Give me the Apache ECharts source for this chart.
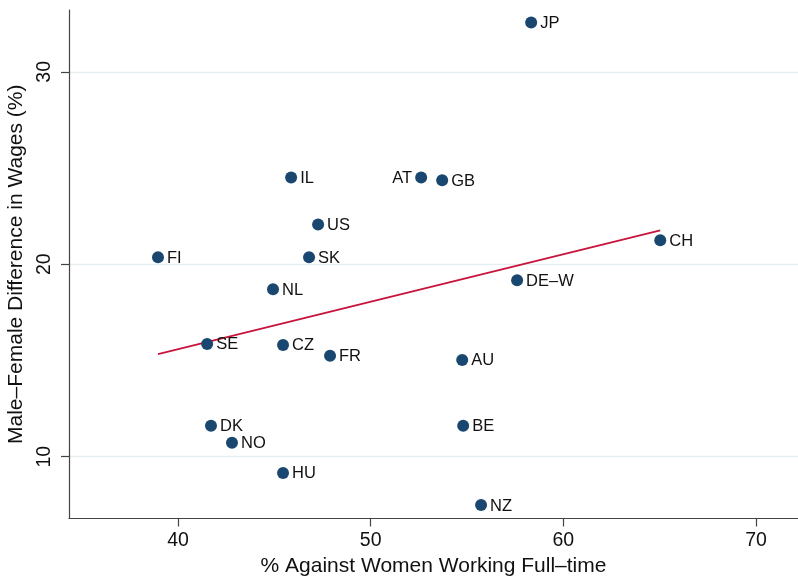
<!DOCTYPE html>
<html>
<head>
<meta charset="utf-8">
<script src="https://cdn.jsdelivr.net/npm/echarts@6/dist/echarts.min.js"></script>
<style>
  html, body { margin: 0; padding: 0; background: #fff; }
  #chart { width: 798px; height: 578px; }
</style>
</head>
<body>
<div id="chart"></div>
<script>
// Country codes, attitude toward women working full-time, and wage gap
var countries = ['JP', 'IL', 'AT', 'GB', 'US', 'FI', 'SK', 'CH', 'NL', 'DE\u2013W',
                 'SE', 'CZ', 'FR', 'AU', 'DK', 'NO', 'BE', 'HU', 'NZ'];
var againstFullTime = [58.33, 45.87, 52.62, 53.71, 47.27, 38.96, 46.80, 65.03, 44.93, 57.60,
                       41.51, 45.45, 47.89, 54.75, 41.71, 42.80, 54.80, 45.45, 55.73];
var wageGap = [32.56, 24.51, 24.51, 24.36, 22.07, 20.36, 20.36, 21.25, 18.70, 19.17,
               15.86, 15.81, 15.24, 15.03, 11.61, 10.72, 11.61, 9.16, 7.49];

// Linear fit endpoints
var fitX = [38.96, 65.03];
var fitY = [15.33, 21.76];

var xTicks = [40, 50, 60, 70];
var yTicks = [10, 20, 30];
var leftLabelled = ['AT'];

var FONT = '"Liberation Sans", Arial, Helvetica, sans-serif';

var points = countries.map(function (c, i) {
  var item = { value: [againstFullTime[i], wageGap[i]], name: c };
  if (leftLabelled.indexOf(c) >= 0) {
    item.label = { position: 'left' };
  }
  return item;
});

var chart = echarts.init(document.getElementById('chart'), null, { renderer: 'canvas' });
chart.setOption({
  animation: false,
  backgroundColor: '#ffffff',
  grid: { left: 69, top: 10, right: 0, bottom: 59.5, containLabel: false, outerBoundsMode: 'none' },
  xAxis: {
    type: 'value',
    min: 34.34,
    max: 72.18,
    name: '% Against Women Working Full\u2013time',
    nameLocation: 'middle',
    nameGap: 33,
    nameTextStyle: { fontFamily: FONT, fontSize: 21, color: '#111' },
    axisLine: { show: true, lineStyle: { color: '#444', width: 1.2 } },
    axisTick: { show: true, length: 8, customValues: xTicks, lineStyle: { color: '#444', width: 1.2 } },
    axisLabel: { customValues: xTicks, fontFamily: FONT, fontSize: 19.5, color: '#111', margin: 12 },
    splitLine: { show: false }
  },
  yAxis: {
    type: 'value',
    min: 6.79,
    max: 33.21,
    name: 'Male\u2013Female Difference in Wages (%)',
    nameLocation: 'middle',
    nameGap: 38,
    nameRotate: 90,
    nameTextStyle: { fontFamily: FONT, fontSize: 21, color: '#111' },
    axisLine: { show: true, lineStyle: { color: '#444', width: 1.2 } },
    axisTick: { show: true, length: 8, customValues: yTicks, lineStyle: { color: '#444', width: 1.2 } },
    axisLabel: { customValues: yTicks, rotate: 90, fontFamily: FONT, fontSize: 19.5, color: '#111', margin: 14 },
    splitLine: { show: false }
  },
  series: [
    {
      type: 'scatter',
      data: points,
      symbol: 'circle',
      symbolSize: 12,
      itemStyle: { color: '#1a476f', opacity: 1 },
      label: {
        show: true,
        position: 'right',
        distance: 3,
        offset: [0, 1],
        formatter: '{b}',
        fontFamily: FONT,
        fontSize: 16.5,
        color: '#111'
      },
      markLine: {
        silent: true,
        symbol: 'none',
        label: { show: false },
        lineStyle: { color: '#e6eef2', width: 1.3, type: 'solid', opacity: 1 },
        data: yTicks.map(function (v) { return { yAxis: v }; }),
        z: 0
      },
      z: 3
    },
    {
      type: 'line',
      data: fitX.map(function (x, i) { return [x, fitY[i]]; }),
      symbol: 'none',
      lineStyle: { color: '#c8143c', width: 1.8 },
      z: 2
    }
  ]
});
</script>
</body>
</html>
